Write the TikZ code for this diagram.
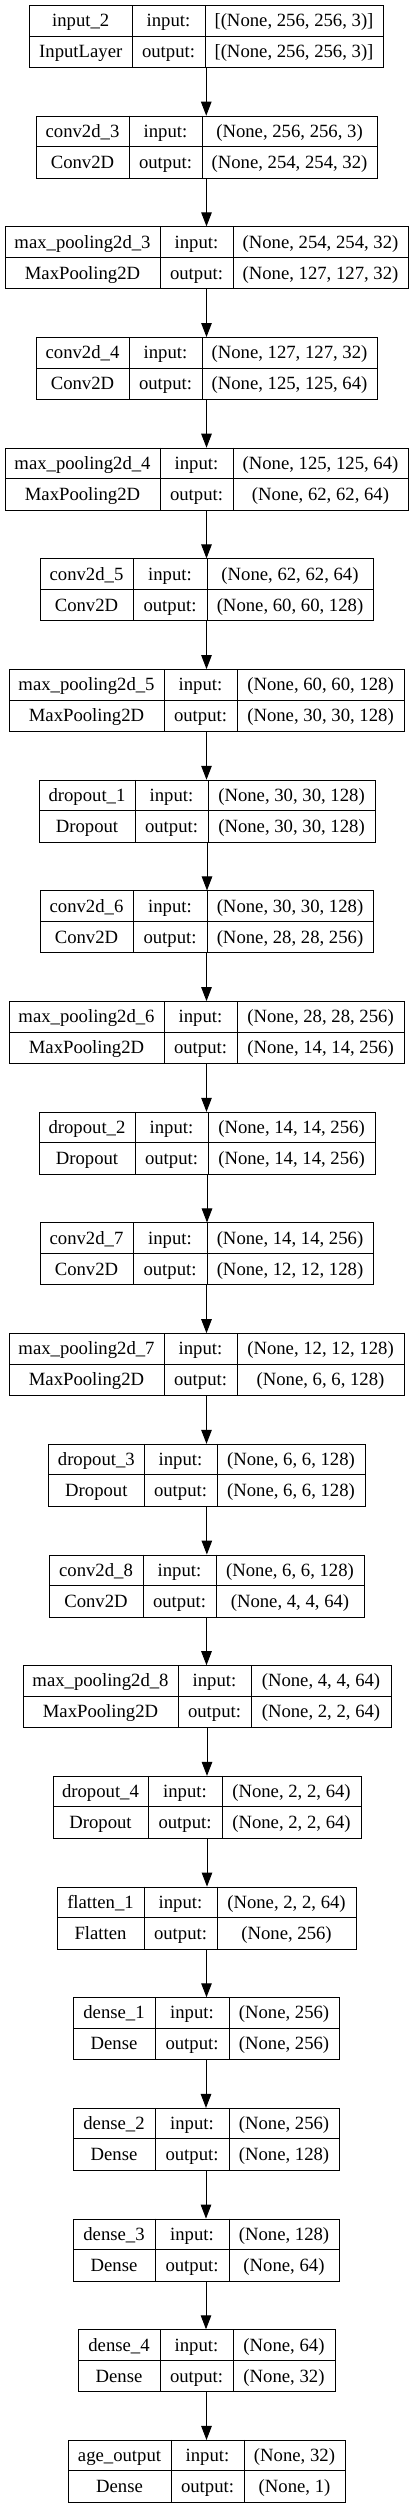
\documentclass[tikz,border=0pt]{standalone}
\usepackage{fontspec}
\setmainfont{Liberation Serif}
\usetikzlibrary{arrows.meta}
\tikzset{
  kbox/.style={draw=black, line width=1pt, inner sep=0pt, fill=white},
  kline/.style={draw=black, line width=1pt},
  ktxt/.style={anchor=base, inner sep=0pt, font=\fontsize{18.7}{20}\selectfont},
  karrow/.style={draw=black, line width=1pt, -{Triangle[length=14pt,width=10.5pt]}}
}
\newcommand\kbox[9]{%
  \pgfmathsetmacro\kty{5+(#1-1)*110.68}%
  \pgfmathsetmacro\kcx{(#2+#3)/2}%
  \pgfmathsetmacro\kwid{#3-#2}%
  \node[kbox, minimum width=\kwid pt, minimum height=62pt, anchor=north] (b#1) at (\kcx,\kty) {};
  \draw[kline] (#2,\kty+31) -- (#3,\kty+31);
  \draw[kline] (#4,\kty) -- (#4,\kty+62);
  \draw[kline] (#5,\kty) -- (#5,\kty+62);
  \node[ktxt] (na#1) at ({(#2+#4)/2},\kty+21.7) {#6};
  \node[ktxt] (nb#1) at ({(#2+#4)/2},\kty+52.7) {#7};
  \node[ktxt] (ia#1) at ({(#4+#5)/2},\kty+21.7) {input:};
  \node[ktxt] (ib#1) at ({(#4+#5)/2},\kty+52.7) {output:};
  \node[ktxt] (sa#1) at ({(#5+#3)/2},\kty+21.7) {#8};
  \node[ktxt] (sb#1) at ({(#5+#3)/2},\kty+52.7) {#9};
}
\begin{document}
\begin{tikzpicture}[x=1pt,y=-1pt]
\useasboundingbox (0,0) rectangle (413,2508);
\fill[white] (0,0) rectangle (413,2508);
\kbox{1}{29.5}{383}{132}{205}{input\_2}{InputLayer}{[(None, 256, 256, 3)]}{[(None, 256, 256, 3)]}
\kbox{2}{36}{377}{129}{202}{conv2d\_3}{Conv2D}{(None, 256, 256, 3)}{(None, 254, 254, 32)}
\kbox{3}{5}{408}{160}{233}{max\_pooling2d\_3}{MaxPooling2D}{(None, 254, 254, 32)}{(None, 127, 127, 32)}
\kbox{4}{36}{377}{129}{202}{conv2d\_4}{Conv2D}{(None, 127, 127, 32)}{(None, 125, 125, 64)}
\kbox{5}{5}{408}{160}{233}{max\_pooling2d\_4}{MaxPooling2D}{(None, 125, 125, 64)}{(None, 62, 62, 64)}
\kbox{6}{40}{373}{133}{207}{conv2d\_5}{Conv2D}{(None, 62, 62, 64)}{(None, 60, 60, 128)}
\kbox{7}{9}{404}{164}{237}{max\_pooling2d\_5}{MaxPooling2D}{(None, 60, 60, 128)}{(None, 30, 30, 128)}
\kbox{8}{39}{375}{135}{208}{dropout\_1}{Dropout}{(None, 30, 30, 128)}{(None, 30, 30, 128)}
\kbox{9}{40}{373}{133}{207}{conv2d\_6}{Conv2D}{(None, 30, 30, 128)}{(None, 28, 28, 256)}
\kbox{10}{9}{404}{164}{237}{max\_pooling2d\_6}{MaxPooling2D}{(None, 28, 28, 256)}{(None, 14, 14, 256)}
\kbox{11}{39}{375}{135}{208}{dropout\_2}{Dropout}{(None, 14, 14, 256)}{(None, 14, 14, 256)}
\kbox{12}{40}{373}{133}{207}{conv2d\_7}{Conv2D}{(None, 14, 14, 256)}{(None, 12, 12, 128)}
\kbox{13}{9}{404}{164}{237}{max\_pooling2d\_7}{MaxPooling2D}{(None, 12, 12, 128)}{(None, 6, 6, 128)}
\kbox{14}{48.7}{365}{144}{217}{dropout\_3}{Dropout}{(None, 6, 6, 128)}{(None, 6, 6, 128)}
\kbox{15}{49}{364}{143}{216}{conv2d\_8}{Conv2D}{(None, 6, 6, 128)}{(None, 4, 4, 64)}
\kbox{16}{23}{391}{178}{251}{max\_pooling2d\_8}{MaxPooling2D}{(None, 4, 4, 64)}{(None, 2, 2, 64)}
\kbox{17}{53}{361}{148}{222}{dropout\_4}{Dropout}{(None, 2, 2, 64)}{(None, 2, 2, 64)}
\kbox{18}{57}{356}{144}{217}{flatten\_1}{Flatten}{(None, 2, 2, 64)}{(None, 256)}
\kbox{19}{73}{339}{155}{229}{dense\_1}{Dense}{(None, 256)}{(None, 256)}
\kbox{20}{73}{339}{155}{229}{dense\_2}{Dense}{(None, 256)}{(None, 128)}
\kbox{21}{73}{339}{155}{229}{dense\_3}{Dense}{(None, 128)}{(None, 64)}
\kbox{22}{78}{335}{160}{233}{dense\_4}{Dense}{(None, 64)}{(None, 32)}
\kbox{23}{68}{345}{171}{244}{age\_output}{Dense}{(None, 32)}{(None, 1)}
\foreach \i [evaluate=\i as \j using int(\i+1)] in {1,...,22}
  \draw[karrow] (b\i.south) -- (b\i.south |- b\j.north);
\end{tikzpicture}
\end{document}
